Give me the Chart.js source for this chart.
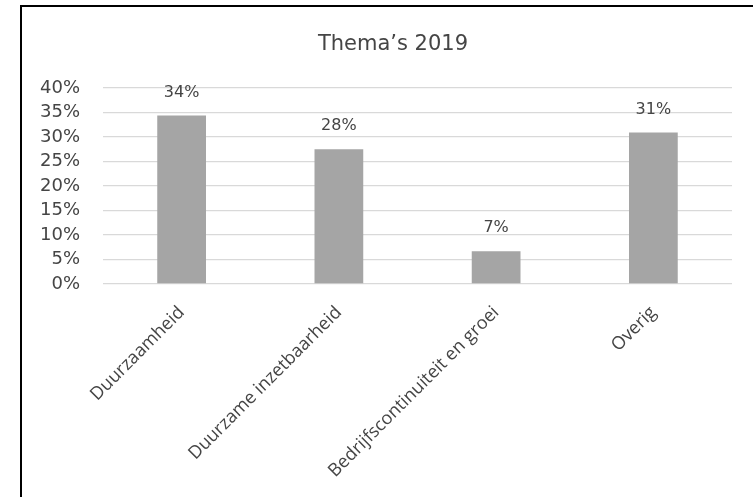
<!DOCTYPE html>
<html>
<head>
<meta charset="utf-8">
<script src="https://cdn.jsdelivr.net/npm/chart.js@4/dist/chart.umd.min.js"></script>
<style>
  html, body { margin: 0; padding: 0; background: #fff; }
  #wrap { position: relative; width: 753px; height: 497px; }
</style>
</head>
<body>
<div id="wrap"><canvas id="barChart"></canvas></div>
<script>
var chartTitle = 'Thema’s 2019';
var labels = ['Duurzaamheid', 'Duurzame inzetbaarheid', 'Bedrijfscontinuiteit en groei', 'Overig'];
var shares = [0.344, 0.275, 0.067, 0.309];
var yTicks = [0, 0.05, 0.10, 0.15, 0.20, 0.25, 0.30, 0.35, 0.40];

var textGrey = '#454545';

function pct(v) {
    return Math.round(v * 100) + '%';
}

// white background, black frame on the left and top edge, and the title
var framePlugin = {
    id: 'frame',
    beforeDraw: function (chart) {
        var ctx = chart.ctx;
        ctx.save();
        ctx.fillStyle = '#fff';
        ctx.fillRect(0, 0, chart.width, chart.height);
        ctx.strokeStyle = '#000';
        ctx.lineWidth = 2;
        ctx.beginPath();
        ctx.moveTo(21, chart.height);
        ctx.lineTo(21, 6);
        ctx.lineTo(chart.width, 6);
        ctx.stroke();

        ctx.font = '21px "DejaVu Sans"';
        ctx.fillStyle = textGrey;
        ctx.textAlign = 'center';
        ctx.textBaseline = 'middle';
        ctx.fillText(chartTitle, 393, 45);
        ctx.restore();
    }
};

// percentage above each bar
var valueLabels = {
    id: 'valueLabels',
    afterDatasetsDraw: function (chart) {
        var ctx = chart.ctx;
        var meta = chart.getDatasetMeta(0);
        ctx.save();
        ctx.font = '16px "DejaVu Sans"';
        ctx.fillStyle = textGrey;
        ctx.textAlign = 'center';
        ctx.textBaseline = 'middle';
        meta.data.forEach(function (bar, i) {
            ctx.fillText(pct(chart.data.datasets[0].data[i]), bar.x, bar.y - 23);
        });
        ctx.restore();
    }
};

var data = {
    labels: labels,
    datasets: [{
        data: shares,
        backgroundColor: '#A5A5A5',
        borderWidth: 0,
        barPercentage: 0.31,
        categoryPercentage: 1.0
    }]
};

var config = {
    type: 'bar',
    data: data,
    options: {
        responsive: false,
        animation: false,
        layout: { padding: { left: 0, right: 21, top: 88, bottom: 0 } },
        plugins: {
            legend: { display: false },
            tooltip: { enabled: false },
            title: { display: false }
        },
        scales: {
            x: {
                grid: { display: false },
                border: { display: false },
                ticks: {
                    color: textGrey,
                    font: { family: 'Open Sans', size: 18 },
                    minRotation: 45,
                    maxRotation: 45,
                    padding: 10,
                    autoSkip: false
                },
                afterFit: function (scale) { scale.height = 213; }
            },
            y: {
                min: 0,
                max: 0.4,
                afterBuildTicks: function (scale) {
                    scale.ticks = yTicks.map(function (v) { return { value: v }; });
                },
                grid: { color: '#D9D9D9', lineWidth: 1.3, drawTicks: false },
                border: { display: false },
                ticks: {
                    color: textGrey,
                    font: { family: 'DejaVu Sans', size: 18 },
                    padding: 23,
                    autoSkip: false,
                    callback: function (v) { return pct(v); }
                },
                afterFit: function (scale) { scale.width = 103; }
            }
        }
    },
    plugins: [framePlugin, valueLabels]
};

var canvas = document.getElementById('barChart');
canvas.width = 753;
canvas.height = 497;
var barChart = new Chart(canvas, config);
</script>
</body>
</html>
